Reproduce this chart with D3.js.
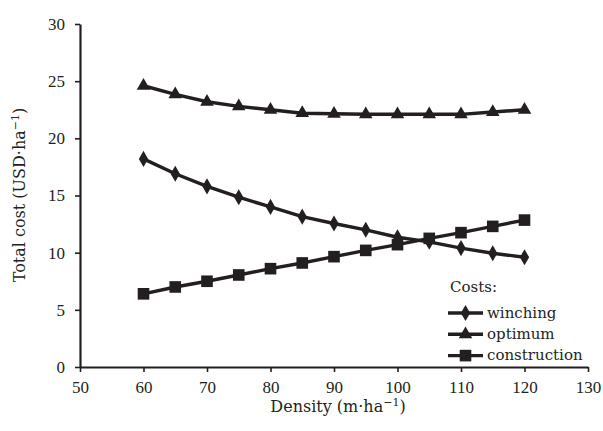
<!DOCTYPE html>
<html>
<head>
<meta charset="utf-8">
<script src="https://cdn.jsdelivr.net/npm/d3@7"></script>
<style>
  body { margin: 0; background: #fff; }
  text { font-family: "DejaVu Serif", serif; fill: #231f20; }
</style>
</head>
<body>
<svg id="chart" width="603" height="431"></svg>
<script>
// data
var density = [60, 65, 70, 75, 80, 85, 90, 95, 100, 105, 110, 115, 120];
var winching = [18.2, 16.9, 15.8, 14.85, 14.0, 13.15, 12.55, 12.0, 11.35, 10.95, 10.4, 9.95, 9.6];
var optimum = [24.6, 23.85, 23.2, 22.8, 22.5, 22.2, 22.15, 22.1, 22.1, 22.1, 22.1, 22.3, 22.5];
var construction = [6.4, 7.0, 7.5, 8.05, 8.6, 9.1, 9.65, 10.2, 10.7, 11.25, 11.75, 12.3, 12.85];
var xTicks = [50, 60, 70, 80, 90, 100, 110, 120, 130];
var yTicks = [0, 5, 10, 15, 20, 25, 30];

var margin = {top: 24, right: 15, bottom: 64, left: 80};
var width = 603 - margin.left - margin.right;
var height = 431 - margin.top - margin.bottom;
var ink = "#231f20";

var svg = d3.select('#chart');
var chart = svg.append('g')
  .attr('transform', 'translate(' + margin.left + ',' + margin.top + ')');

var x = d3.scaleLinear().domain([50, 130]).range([0, 508]);
var y = d3.scaleLinear().domain([0, 30]).range([height, 0]);

var series = [
  {name: 'winching', values: winching, symbol: d3.symbolDiamond, size: 75},
  {name: 'optimum', values: optimum, symbol: d3.symbolTriangle, size: 80},
  {name: 'construction', values: construction, symbol: d3.symbolSquare, size: 135}
];

var line = d3.line()
  .x((d, i) => x(density[i]))
  .y((d) => y(d));

series.forEach(function(s) {
  chart.append('path')
    .attr('d', line(s.values))
    .attr('fill', 'none')
    .attr('stroke', ink)
    .attr('stroke-width', 3.4);
  chart.selectAll('.pt-' + s.name)
    .data(s.values)
    .enter()
    .append('path')
    .attr('class', 'pt-' + s.name)
    .attr('d', d3.symbol().type(s.symbol).size(s.size))
    .attr('transform', (d, i) => 'translate(' + x(density[i]) + ',' + y(d) + ')')
    .attr('fill', ink);
});

// axes
var xAxis = chart.append('g')
  .attr('transform', 'translate(0,' + height + ')')
  .call(d3.axisBottom(x).tickValues(xTicks).tickSize(5).tickPadding(9).tickSizeOuter(0));
var yAxis = chart.append('g')
  .call(d3.axisLeft(y).tickValues(yTicks).tickSize(5).tickPadding(10).tickSizeOuter(0));

[xAxis, yAxis].forEach(function(a) {
  a.select('.domain').attr('stroke', ink).attr('stroke-width', 2.2);
  a.selectAll('.tick line').attr('stroke', ink).attr('stroke-width', 1.6);
  a.selectAll('.tick text')
    .style('font-family', '"Liberation Serif", "DejaVu Serif", serif')
    .style('font-size', '17px')
    .attr('fill', ink);
});

// axis titles
svg.append('text')
  .attr('x', 338)
  .attr('y', 412)
  .attr('text-anchor', 'middle')
  .style('font-size', '16px')
  .html('Density (m·ha<tspan dy="-6" font-size="11px">−1</tspan><tspan dy="6">)</tspan>');

svg.append('text')
  .attr('transform', 'translate(25,195) rotate(-90)')
  .attr('text-anchor', 'middle')
  .style('font-size', '16px')
  .html('Total cost (USD·ha<tspan dy="-6" font-size="11px">−1</tspan><tspan dy="6">)</tspan>');

// legend
var legend = svg.append('g').attr('transform', 'translate(448,292)');
legend.append('text')
  .attr('x', 2).attr('y', 0)
  .style('font-size', '15px')
  .text('Costs:');
series.forEach(function(s, i) {
  var g = legend.append('g').attr('transform', 'translate(0,' + (21 + i * 21.3) + ')');
  g.append('line')
    .attr('x1', 0).attr('x2', 35)
    .attr('y1', 0).attr('y2', 0)
    .attr('stroke', ink).attr('stroke-width', 3.4);
  g.append('path')
    .attr('d', d3.symbol().type(s.symbol).size(s.size))
    .attr('transform', 'translate(17.5,0)')
    .attr('fill', ink);
  g.append('text')
    .attr('x', 39).attr('y', 4.5)
    .style('font-size', '15px')
    .text(s.name);
});
</script>
</body>
</html>
